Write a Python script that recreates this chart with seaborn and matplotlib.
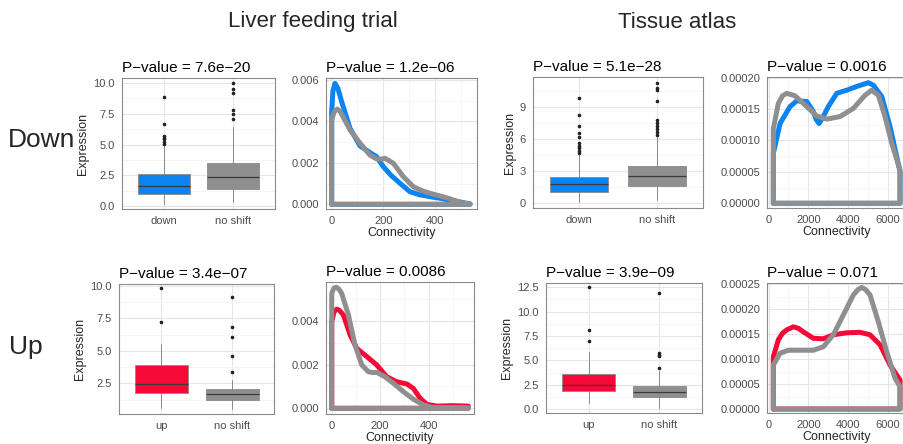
import matplotlib
matplotlib.use("Agg")
import matplotlib.pyplot as plt
from matplotlib.ticker import FixedLocator, FormatStrFormatter
import seaborn as sns

sns.set_theme(style="whitegrid")
plt.rcParams["font.family"] = ["Liberation Sans", "DejaVu Sans"]

BLUE = "#0B83F0"
RED = "#F50A37"
GREY = "#8F8F8F"

# ---------------- expression boxplots ----------------
# five-number summaries: whisker low, Q1, median, Q3, whisker high
liver_down_groups = ["down", "no shift"]
liver_down_stats = [[0.16, 0.98, 1.65, 2.58, 4.95], [0.35, 1.41, 2.36, 3.52, 6.4]]
liver_down_out = [[5.04, 5.23, 5.42, 5.55, 5.69, 6.64, 8.84],
                  [7.05, 7.48, 7.8, 9.16, 9.5, 10.0]]

tissue_down_groups = ["down", "no shift"]
tissue_down_stats = [[0.15, 1.09, 1.81, 2.5, 4.5], [0.3, 1.65, 2.56, 3.5, 6.2]]
tissue_down_out = [[4.68, 4.9, 5.15, 5.37, 5.62, 6.19, 6.56, 7.28, 8.28, 9.84],
                   [6.4, 6.7, 7.0, 7.25, 7.56, 7.8, 9.62, 10.6, 10.78, 11.3]]

liver_up_groups = ["up", "no shift"]
liver_up_stats = [[0.57, 1.73, 2.45, 3.91, 5.5], [0.52, 1.21, 1.65, 2.04, 2.75]]
liver_up_out = [[7.2, 9.82], [3.35, 4.63, 6.05, 6.86, 9.18]]

tissue_up_groups = ["up", "no shift"]
tissue_up_stats = [[0.61, 1.9, 2.49, 3.62, 5.9], [0.16, 1.29, 1.8, 2.42, 3.9]]
tissue_up_out = [[7.0, 8.12, 12.5], [4.26, 5.46, 5.56, 5.74, 11.95]]

# ---------------- connectivity densities ----------------
liver_down_blue_x = [0, 5, 13, 24, 40, 71, 110, 148, 174, 200, 230, 265, 303, 340, 381,
                     445, 510, 536]
liver_down_blue_y = [0.00447, 0.0055, 0.00584, 0.0056, 0.0049, 0.00367, 0.00282, 0.0025,
                     0.0023, 0.00182, 0.0014, 0.00101, 0.00061, 0.00046, 0.00037, 0.00024,
                     0.00008, 0.00002]
liver_down_grey_x = [0, 10, 22, 33, 45, 71, 110, 148, 174, 190, 207, 239, 278, 316, 350,
                     381, 445, 500, 536]
liver_down_grey_y = [0.00407, 0.00448, 0.0046, 0.00448, 0.0042, 0.00359, 0.00295, 0.00238,
                     0.00219, 0.00218, 0.00222, 0.00198, 0.00133, 0.00085, 0.00066, 0.00053,
                     0.00032, 0.00008, 0.00002]

tissue_down_blue_x = [241, 578, 1080, 1417, 1920, 2251, 2400, 2538, 2700, 3005, 3427, 3930,
                      4432, 5015, 5266, 5688, 6106, 6442, 6608]
tissue_down_blue_y = [0.0000796, 0.000127, 0.000154, 0.000163, 0.000162, 0.000146, 0.000133,
                      0.000127, 0.000135, 0.000154, 0.000175, 0.00018, 0.000186, 0.000192,
                      0.000188, 0.00017, 0.000122, 0.0000742, 0.0000503]
tissue_down_grey_x = [241, 492, 700, 915, 1332, 1920, 2422, 2925, 3593, 4261, 4849, 5186,
                      5518, 5854, 6191, 6608]
tissue_down_grey_y = [0.000119, 0.000159, 0.000171, 0.000175, 0.000171, 0.000154, 0.000139,
                      0.000134, 0.000138, 0.000151, 0.000172, 0.00018, 0.000172, 0.000138,
                      0.0000955, 0.000053]

liver_up_red_x = [0, 10, 21, 33, 48, 76, 103, 145, 186, 227, 269, 310, 337, 365, 393, 434,
                  500, 564]
liver_up_red_y = [0.00396, 0.00442, 0.00453, 0.00446, 0.00426, 0.00335, 0.00274, 0.00236,
                  0.00198, 0.00144, 0.00121, 0.00111, 0.00091, 0.00046, 0.00018, 0.0001,
                  0.00012, 0.0001]
liver_up_grey_x = [0, 8, 18, 29, 41, 69, 96, 124, 151, 170, 186, 220, 255, 296, 337, 379,
                   420, 500, 564]
liver_up_grey_y = [0.00525, 0.00547, 0.00553, 0.00545, 0.00525, 0.00426, 0.00289, 0.00198,
                   0.00167, 0.00163, 0.00164, 0.00144, 0.00114, 0.00076, 0.00042, 0.00015,
                   0.00003, 0.00002, 0.00002]

tissue_up_red_x = [241, 492, 700, 915, 1246, 1500, 1749, 2251, 2754, 3256, 3930, 4598, 5101,
                   5603, 6106, 6608]
tissue_up_red_y = [0.000105, 0.000139, 0.000152, 0.000159, 0.000165, 0.000162, 0.000155,
                   0.000142, 0.000141, 0.000149, 0.000153, 0.000154, 0.000149, 0.000129,
                   0.0000884, 0.0000582]
tissue_up_grey_x = [241, 578, 995, 1583, 2251, 2754, 3256, 3759, 4261, 4500, 4683, 4870,
                    5101, 5518, 5940, 6357, 6608]
tissue_up_grey_y = [0.0000884, 0.000112, 0.000118, 0.000118, 0.000118, 0.000125, 0.000149,
                    0.000189, 0.000229, 0.00024, 0.000244, 0.00024, 0.000229, 0.000175,
                    0.000115, 0.0000617, 0.0000448]

W, H = 904, 444
fig = plt.figure(figsize=(W / 100, H / 100), dpi=100)


def panel(left, top, right, bottom):
    ax = fig.add_axes([left / W, 1 - bottom / H, (right - left) / W, (bottom - top) / H])
    ax.set_facecolor("white")
    for s in ax.spines.values():
        s.set_visible(True)
        s.set_color("#8A8A8A")
        s.set_linewidth(0.8)
    ax.tick_params(length=3, width=0.6, color="#333333", labelcolor="#4D4D4D",
                   labelsize=8, pad=2)
    ax.grid(True, which="major", color="#E6E6E6", linewidth=0.8)
    ax.grid(True, which="minor", color="#F2F2F2", linewidth=0.5)
    ax.set_axisbelow(True)
    return ax


def title(ax, text):
    ax.set_title(text, loc="left", fontsize=11, pad=4, color="black")


def boxes(ax, groups, stats, outliers, fill, ylim, yticks, fmt):
    bstats = []
    for g, s, o in zip(groups, stats, outliers):
        bstats.append(dict(label=g, whislo=s[0], q1=s[1], med=s[2], q3=s[3],
                           whishi=s[4], fliers=o))
    art = ax.bxp(bstats, positions=[1, 2], widths=0.75, patch_artist=True,
                 boxprops=dict(edgecolor="#8A8A8A", linewidth=0.6),
                 medianprops=dict(color="#3A3A3A", linewidth=0.9),
                 whiskerprops=dict(color="#7A7A7A", linewidth=0.6),
                 capprops=dict(linewidth=0),
                 flierprops=dict(marker="o", markersize=1.6, markerfacecolor="#222222",
                                 markeredgecolor="#222222"))
    for patch, c in zip(art["boxes"], fill):
        patch.set_facecolor(c)
    ax.set_xlim(0.4, 2.6)
    ax.set_ylim(*ylim)
    ax.set_xticks([1, 2], groups)
    ax.yaxis.set_major_locator(FixedLocator(yticks))
    minors = [(a + b) / 2 for a, b in zip(yticks[:-1], yticks[1:])]
    step = yticks[1] - yticks[0]
    minors += [yticks[0] - step / 2, yticks[-1] + step / 2]
    ax.yaxis.set_minor_locator(FixedLocator(minors))
    ax.yaxis.set_major_formatter(FormatStrFormatter(fmt))
    ax.xaxis.grid(True, which="major")
    ax.set_ylabel("Expression", fontsize=9, labelpad=3)


def outline(ax, xs, ys, color):
    # density drawn as a closed outline: rise at the first value, curve, drop, baseline back
    px = [xs[0]] + list(xs) + [xs[-1], xs[0]]
    py = [0.0] + list(ys) + [0.0, 0.0]
    sns.lineplot(x=px, y=py, sort=False, estimator=None, color=color, linewidth=3.6,
                 ax=ax, solid_joinstyle="round", solid_capstyle="round")


def density_axes(ax, xlim, ylim, xticks, yticks, fmt, xminor, yminor):
    ax.set_xlim(*xlim)
    ax.set_ylim(*ylim)
    ax.xaxis.set_major_locator(FixedLocator(xticks))
    ax.yaxis.set_major_locator(FixedLocator(yticks))
    ax.xaxis.set_minor_locator(FixedLocator(xminor))
    ax.yaxis.set_minor_locator(FixedLocator(yminor))
    ax.yaxis.set_major_formatter(FormatStrFormatter(fmt))
    ax.set_xlabel("Connectivity", fontsize=9, labelpad=1)
    ax.set_ylabel("")


# ---- top row: Down ----
ax1 = panel(122, 78, 275, 209)
boxes(ax1, liver_down_groups, liver_down_stats, liver_down_out, [BLUE, GREY],
      (-0.244, 10.41), [0, 2.5, 5, 7.5, 10], "%.1f")
title(ax1, "P\u2212value = 7.6e\u221220")

ax2 = panel(326, 78, 477, 209)
outline(ax2, liver_down_blue_x, liver_down_blue_y, BLUE)
outline(ax2, liver_down_grey_x, liver_down_grey_y, GREY)
density_axes(ax2, (-22, 563), (-0.000227, 0.0061), [0, 200, 400],
             [0, 0.002, 0.004, 0.006], "%.3f", [100, 300, 500],
             [0.001, 0.003, 0.005])
title(ax2, "P\u2212value = 1.2e\u221206")

ax3 = panel(533, 77, 703, 208)
boxes(ax3, tissue_down_groups, tissue_down_stats, tissue_down_out, [BLUE, GREY],
      (-0.44, 11.84), [0, 3, 6, 9], "%d")
title(ax3, "P\u2212value = 5.1e\u221228")

ax4 = panel(767, 77, 906.4, 208)
outline(ax4, tissue_down_blue_x, tissue_down_blue_y, BLUE)
outline(ax4, tissue_down_grey_x, tissue_down_grey_y, GREY)
density_axes(ax4, (-78, 6928), (-0.0000075, 0.000201), [0, 2000, 4000, 6000],
             [0, 0.00005, 0.0001, 0.00015, 0.0002], "%.5f", [1000, 3000, 5000],
             [0.000025, 0.000075, 0.000125, 0.000175])
title(ax4, "P\u2212value = 0.0016")

# ---- bottom row: Up ----
ax5 = panel(119, 284, 274.5, 414)
boxes(ax5, liver_up_groups, liver_up_stats, liver_up_out, [RED, GREY],
      (0.133, 10.16), [2.5, 5, 7.5, 10], "%.1f")
title(ax5, "P\u2212value = 3.4e\u221207")

ax6 = panel(325.7, 282, 474.3, 414)
outline(ax6, liver_up_red_x, liver_up_red_y, RED)
outline(ax6, liver_up_grey_x, liver_up_grey_y, GREY)
density_axes(ax6, (-25, 589), (-0.00026, 0.005767), [0, 200, 400],
             [0, 0.002, 0.004], "%.3f", [100, 300, 500], [0.001, 0.003, 0.005])
title(ax6, "P\u2212value = 0.0086")

ax7 = panel(546, 283, 702, 413)
boxes(ax7, tissue_up_groups, tissue_up_stats, tissue_up_out, [RED, GREY],
      (-0.38, 12.94), [0, 2.5, 5, 7.5, 10, 12.5], "%.1f")
title(ax7, "P\u2212value = 3.9e\u221209")

ax8 = panel(767, 283, 906.4, 413)
outline(ax8, tissue_up_red_x, tissue_up_red_y, RED)
outline(ax8, tissue_up_grey_x, tissue_up_grey_y, GREY)
density_axes(ax8, (-78, 6928), (-0.000008, 0.000253), [0, 2000, 4000, 6000],
             [0, 0.00005, 0.0001, 0.00015, 0.0002, 0.00025], "%.5f", [1000, 3000, 5000],
             [0.000025, 0.000075, 0.000125, 0.000175, 0.000225])
title(ax8, "P\u2212value = 0.071")

# column and row headings
fig.text(313 / W, 1 - 22 / H, "Liver feeding trial", ha="center", va="center", fontsize=16)
fig.text(677 / W, 1 - 22 / H, "Tissue atlas", ha="center", va="center", fontsize=16)
fig.text(8 / W, 1 - 140 / H, "Down", ha="left", va="center", fontsize=19)
fig.text(9 / W, 1 - 347 / H, "Up", ha="left", va="center", fontsize=19)

fig.savefig("out.png", dpi=100)
